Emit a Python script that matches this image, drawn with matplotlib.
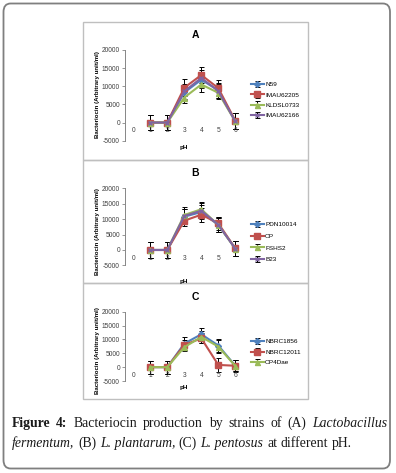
import matplotlib
matplotlib.use("Agg")
import matplotlib.pyplot as plt
from matplotlib.patches import Rectangle, FancyBboxPatch

W, H = 396, 473
DPI = 100

# ---------------- data ----------------
ph_ticks = [0, 1, 2, 3, 4, 5, 6]
ph = [1, 2, 3, 4, 5, 6]

# Panel A - L. fermentum
a_names = ["N59", "IMAU62205", "KLDSL0733", "IMAU62166"]
a_N59 = [0, 0, 8300, 11800, 8900, 400]
a_N59_err = [2100, 2100, 2000, 2200, 2000, 2200]
a_IMAU62205 = [0, 0, 9600, 13100, 9500, 500]
a_IMAU62205_err = [2100, 2100, 2300, 2100, 2200, 2200]
a_KLDSL0733 = [0, 0, 6900, 10500, 8200, 300]
a_KLDSL0733_err = [2100, 2100, 1400, 2000, 1800, 2200]
a_IMAU62166 = [0, 0, 8600, 12300, 8700, 300]
a_IMAU62166_err = [2100, 2100, 2000, 2100, 2000, 2200]

# Panel B - L. plantarum
b_names = ["PDN10014", "OP", "FSHS2", "B23"]
b_PDN10014 = [0, 0, 10800, 12300, 8100, 500]
b_PDN10014_err = [2500, 2500, 2400, 2400, 2400, 2400]
b_OP = [0, 0, 9500, 11450, 8650, 500]
b_OP_err = [2500, 2500, 1700, 2300, 2200, 2400]
b_FSHS2 = [0, 0, 11350, 13200, 8100, 400]
b_FSHS2_err = [2500, 2500, 2650, 2400, 2400, 2400]
b_B23 = [0, 0, 11000, 12750, 8200, 400]
b_B23_err = [2500, 2500, 2400, 2400, 2400, 2400]

# Panel C - L. pentosus
c_names = ["NBRC1856", "NBRC12011", "OP4Dae"]
c_NBRC1856 = [0, 0, 8500, 11850, 7800, 500]
c_NBRC1856_err = [2300, 2300, 2500, 2200, 2300, 2000]
c_NBRC12011 = [0, 0, 8000, 10400, 800, 500]
c_NBRC12011_err = [2300, 2300, 1800, 1800, 2500, 2000]
c_OP4Dae = [0, 0, 7200, 10900, 7400, 400]
c_OP4Dae_err = [2300, 2300, 1000, 2300, 2300, 2000]

y_ticks = [-5000, 0, 5000, 10000, 15000, 20000]

BLUE, RED, GREEN, PURPLE = "#4F81BD", "#C0504D", "#9BBB59", "#8064A2"

fig = plt.figure(figsize=(W / DPI, H / DPI), dpi=DPI)
plt.rcParams["font.family"] = ["Liberation Sans", "DejaVu Sans"]


def fx(px):
    return px / W


def fy(py):
    return 1 - py / H


# outer rounded border
fig.patches.append(FancyBboxPatch((fx(3.5), fy(468.5)), fx(386.5), (465) / H,
                                  boxstyle="round,pad=0,rounding_size=0.018",
                                  transform=fig.transFigure, fill=False,
                                  edgecolor="#7f7f7f", linewidth=1.3))
# panel borders
for top, bot in [(22, 160), (160, 283), (283, 399)]:
    fig.patches.append(Rectangle((fx(83), fy(bot)), fx(308 - 83), (bot - top) / H,
                                 transform=fig.transFigure, fill=False,
                                 edgecolor="#bfbfbf", linewidth=1.0))


def panel(y_top, y_bot, series, title, title_y, ylab_y, ph_y, leg_y, leg_sp,
          xlabels):
    left = 124.8
    width = 7 * 17.0
    ax = fig.add_axes([fx(left), fy(y_bot), fx(width), (y_bot - y_top) / H])
    ax.set_xlim(-0.5, 6.5)
    ax.set_ylim(-5000, 20000)
    for name, vals, err, color, marker, ms in series:
        ax.errorbar(ph, vals, yerr=err, color=color, marker=marker,
                    markersize=ms, markeredgecolor=color, linewidth=1.5,
                    ecolor="black", elinewidth=0.7, capsize=1.8, capthick=0.7,
                    label=name, zorder=3)
    ax.set_yticks(y_ticks)
    ax.set_yticklabels([str(v) for v in y_ticks])
    ax.set_xticks(ph_ticks)
    ax.set_xticklabels(xlabels)
    for s in ["top", "right"]:
        ax.spines[s].set_visible(False)
    ax.spines["left"].set_color("#868686")
    ax.spines["left"].set_linewidth(0.7)
    ax.spines["bottom"].set_position(("data", 0))
    ax.spines["bottom"].set_visible(False)
    ax.tick_params(axis="y", length=2, width=0.6, color="#868686",
                   labelsize=4.8, labelcolor="#404040", pad=1.5)
    ax.tick_params(axis="x", length=0, labelsize=4.8, labelcolor="#404040",
                   pad=3.4)
    ax.xaxis.set_zorder(5)
    ax.patch.set_alpha(0)
    fig.text(fx(195), fy(title_y), title, fontsize=7.5, fontweight="bold",
             ha="center", va="center")
    fig.text(fx(97), fy(ylab_y), "Bacteriocin (Arbitrary unit/ml)",
             fontsize=4.4, fontweight="bold", rotation=90, ha="center",
             va="center")
    fig.text(fx(184), fy(ph_y), "pH", fontsize=4.6, fontweight="bold",
             ha="center", va="center")
    ax.legend(loc="center left", bbox_to_anchor=(fx(251), fy(leg_y)),
              bbox_transform=fig.transFigure, frameon=False, fontsize=4.6,
              handlelength=2.0, handletextpad=0.2, labelspacing=leg_sp,
              borderpad=0, borderaxespad=0)
    return ax


xl_all = [str(v) for v in ph_ticks]
xl_b = [str(v) if v != 6 else "" for v in ph_ticks]

panel(50, 140.7,
      [(a_names[0], a_N59, a_N59_err, BLUE, "D", 3.0),
       (a_names[1], a_IMAU62205, a_IMAU62205_err, RED, "s", 3.8),
       (a_names[2], a_KLDSL0733, a_KLDSL0733_err, GREEN, "^", 3.6),
       (a_names[3], a_IMAU62166, a_IMAU62166_err, PURPLE, "x", 3.2)],
      "A", 35, 95, 147, 100, 0.75, xl_all)

panel(188.3, 265.4,
      [(b_names[0], b_PDN10014, b_PDN10014_err, BLUE, "D", 3.0),
       (b_names[1], b_OP, b_OP_err, RED, "s", 3.8),
       (b_names[2], b_FSHS2, b_FSHS2_err, GREEN, "^", 3.6),
       (b_names[3], b_B23, b_B23_err, PURPLE, "x", 3.2)],
      "B", 173, 232, 281, 242, 0.95, xl_b)

panel(311.7, 381,
      [(c_names[0], c_NBRC1856, c_NBRC1856_err, BLUE, "D", 3.0),
       (c_names[1], c_NBRC12011, c_NBRC12011_err, RED, "s", 3.8),
       (c_names[2], c_OP4Dae, c_OP4Dae_err, GREEN, "^", 3.6)],
      "C", 297, 351, 387.5, 352, 0.75, xl_all)

# ---------------- caption ----------------
serif = ["Liberation Serif", "DejaVu Serif"]
cap_fs = 9.9
renderer = fig.canvas.get_renderer()

line1 = [("Figure", "bold", "normal"), ("4:", "bold", "normal"),
         ("Bacteriocin", "normal", "normal"), ("production", "normal", "normal"),
         ("by", "normal", "normal"), ("strains", "normal", "normal"),
         ("of", "normal", "normal"), ("(A)", "normal", "normal"),
         ("Lactobacillus", "normal", "italic")]
line2 = [("fermentum,", "normal", "italic"), ("(B)", "normal", "normal"),
         ("L. plantarum,", "normal", "italic"), ("(C)", "normal", "normal"),
         ("L. pentosus", "normal", "italic"), ("at", "normal", "normal"),
         ("different", "normal", "normal"), ("pH.", "normal", "normal")]


def make_words(words, y):
    arts = []
    for w, wt, st in words:
        t = fig.text(0, fy(y), w, fontsize=cap_fs, family=serif,
                     fontweight=wt, fontstyle=st, ha="left", va="baseline",
                     color="#1a1a1a")
        arts.append(t)
    widths = [t.get_window_extent(renderer).width for t in arts]
    return arts, widths


arts, widths = make_words(line1, 427)
x0, x1 = 12, 387
gap = (x1 - x0 - sum(widths)) / (len(arts) - 1)
x = x0
for t, w in zip(arts, widths):
    t.set_x(fx(x))
    x += w + gap

arts, widths = make_words(line2, 447)
x = 12
for t, w in zip(arts, widths):
    t.set_x(fx(x))
    x += w + 3.6

fig.savefig("out.png", dpi=DPI)
